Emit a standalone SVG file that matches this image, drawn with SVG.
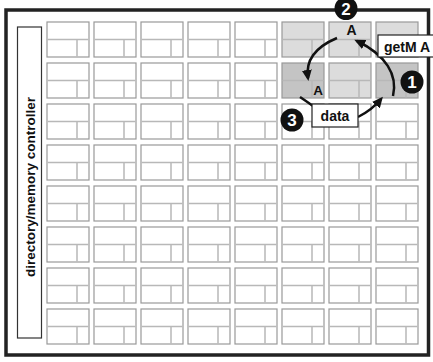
<svg xmlns="http://www.w3.org/2000/svg" xmlns:xlink="http://www.w3.org/1999/xlink" width="433" height="362" viewBox="0 0 433 362">
<style>
.frame{fill:#fff;stroke:#222;stroke-width:3.5}
.ctrl{fill:#fff;stroke:#333;stroke-width:1.2}
.tile{fill:#fff}
.lt{fill:#dcdcdc}
.dk{fill:#c4c4c4}
.ob{stroke:#999;stroke-width:1.2}
.dv{stroke:#b8b8b8;stroke-width:1.5;fill:none}
.t{font-family:"Liberation Sans",Arial,sans-serif;font-weight:bold;fill:#111}
.num{font-family:"Liberation Sans",Arial,sans-serif;font-weight:bold;fill:#fff;font-size:17px;text-anchor:middle}
.arr{fill:none;stroke:#111;stroke-width:2.5}
.lbl{fill:#fff;stroke:#222;stroke-width:1.2}
</style>
<defs>
<g id="tile">
<rect class="ob" x="0" y="0" width="42" height="35"/>
<path class="dv" d="M0.6,17.5H41.4M30,17.5V34.4"/>
</g>
<marker id="ah" viewBox="0 0 11 10" markerWidth="11" markerHeight="10" refX="8" refY="5" orient="auto" markerUnits="userSpaceOnUse">
<path d="M0,0L11,5L0,10z" fill="#111"/>
</marker>
</defs>
<rect class="frame" x="6" y="10" width="422.5" height="345"/>
<g id="controller">
<rect class="ctrl" x="17.5" y="27" width="24" height="311"/>
<text class="t" font-size="13.5" text-anchor="middle" transform="translate(34.5,187) rotate(-90)">directory/memory controller</text>
</g>
<g id="tiles">
<use id="t11" class="tile" xlink:href="#tile" x="47" y="22"/><use id="t12" class="tile" xlink:href="#tile" x="94" y="22"/><use id="t13" class="tile" xlink:href="#tile" x="141" y="22"/><use id="t14" class="tile" xlink:href="#tile" x="188" y="22"/><use id="t15" class="tile" xlink:href="#tile" x="235" y="22"/><use id="t16" class="lt" xlink:href="#tile" x="282" y="22"/><use id="t17" class="lt" xlink:href="#tile" x="329" y="22"/><use id="t18" class="lt" xlink:href="#tile" x="376" y="22"/>
<use id="t21" class="tile" xlink:href="#tile" x="47" y="63"/><use id="t22" class="tile" xlink:href="#tile" x="94" y="63"/><use id="t23" class="tile" xlink:href="#tile" x="141" y="63"/><use id="t24" class="tile" xlink:href="#tile" x="188" y="63"/><use id="t25" class="tile" xlink:href="#tile" x="235" y="63"/><use id="t26" class="dk" xlink:href="#tile" x="282" y="63"/><use id="t27" class="lt" xlink:href="#tile" x="329" y="63"/><use id="t28" class="dk" xlink:href="#tile" x="376" y="63"/>
<use id="t31" class="tile" xlink:href="#tile" x="47" y="104"/><use id="t32" class="tile" xlink:href="#tile" x="94" y="104"/><use id="t33" class="tile" xlink:href="#tile" x="141" y="104"/><use id="t34" class="tile" xlink:href="#tile" x="188" y="104"/><use id="t35" class="tile" xlink:href="#tile" x="235" y="104"/><use id="t36" class="tile" xlink:href="#tile" x="282" y="104"/><use id="t37" class="tile" xlink:href="#tile" x="329" y="104"/><use id="t38" class="tile" xlink:href="#tile" x="376" y="104"/>
<use id="t41" class="tile" xlink:href="#tile" x="47" y="145"/><use id="t42" class="tile" xlink:href="#tile" x="94" y="145"/><use id="t43" class="tile" xlink:href="#tile" x="141" y="145"/><use id="t44" class="tile" xlink:href="#tile" x="188" y="145"/><use id="t45" class="tile" xlink:href="#tile" x="235" y="145"/><use id="t46" class="tile" xlink:href="#tile" x="282" y="145"/><use id="t47" class="tile" xlink:href="#tile" x="329" y="145"/><use id="t48" class="tile" xlink:href="#tile" x="376" y="145"/>
<use id="t51" class="tile" xlink:href="#tile" x="47" y="186"/><use id="t52" class="tile" xlink:href="#tile" x="94" y="186"/><use id="t53" class="tile" xlink:href="#tile" x="141" y="186"/><use id="t54" class="tile" xlink:href="#tile" x="188" y="186"/><use id="t55" class="tile" xlink:href="#tile" x="235" y="186"/><use id="t56" class="tile" xlink:href="#tile" x="282" y="186"/><use id="t57" class="tile" xlink:href="#tile" x="329" y="186"/><use id="t58" class="tile" xlink:href="#tile" x="376" y="186"/>
<use id="t61" class="tile" xlink:href="#tile" x="47" y="227"/><use id="t62" class="tile" xlink:href="#tile" x="94" y="227"/><use id="t63" class="tile" xlink:href="#tile" x="141" y="227"/><use id="t64" class="tile" xlink:href="#tile" x="188" y="227"/><use id="t65" class="tile" xlink:href="#tile" x="235" y="227"/><use id="t66" class="tile" xlink:href="#tile" x="282" y="227"/><use id="t67" class="tile" xlink:href="#tile" x="329" y="227"/><use id="t68" class="tile" xlink:href="#tile" x="376" y="227"/>
<use id="t71" class="tile" xlink:href="#tile" x="47" y="268"/><use id="t72" class="tile" xlink:href="#tile" x="94" y="268"/><use id="t73" class="tile" xlink:href="#tile" x="141" y="268"/><use id="t74" class="tile" xlink:href="#tile" x="188" y="268"/><use id="t75" class="tile" xlink:href="#tile" x="235" y="268"/><use id="t76" class="tile" xlink:href="#tile" x="282" y="268"/><use id="t77" class="tile" xlink:href="#tile" x="329" y="268"/><use id="t78" class="tile" xlink:href="#tile" x="376" y="268"/>
<use id="t81" class="tile" xlink:href="#tile" x="47" y="309"/><use id="t82" class="tile" xlink:href="#tile" x="94" y="309"/><use id="t83" class="tile" xlink:href="#tile" x="141" y="309"/><use id="t84" class="tile" xlink:href="#tile" x="188" y="309"/><use id="t85" class="tile" xlink:href="#tile" x="235" y="309"/><use id="t86" class="tile" xlink:href="#tile" x="282" y="309"/><use id="t87" class="tile" xlink:href="#tile" x="329" y="309"/><use id="t88" class="tile" xlink:href="#tile" x="376" y="309"/>
</g>
<g id="tile-labels">
<text class="t" font-size="14" text-anchor="middle" x="351.5" y="34.5">A</text>
<text class="t" font-size="13.5" text-anchor="middle" x="318" y="95">A</text>
</g>
<g id="connectors">
<path class="arr" d="M393,96 C398,75 386,55 357,41" marker-end="url(#ah)"/>
<path class="arr" d="M337,38 C318,46 305,58 308,78" marker-end="url(#ah)"/>
<path class="arr" d="M300,97 Q306,101 313,106"/>
<path class="arr" d="M358,117 Q372,110 381,99" marker-end="url(#ah)"/>
</g>
<g id="getM">
<rect class="lbl" x="378" y="35" width="56" height="22"/>
<text class="t" font-size="14" x="384" y="51.5">getM A</text>
</g>
<g id="data">
<rect class="lbl" x="312" y="104" width="46" height="23"/>
<text class="t" font-size="14" text-anchor="middle" x="335" y="120.5">data</text>
</g>
<g id="step1"><circle cx="412" cy="82" r="11.5" fill="#111"/><text class="num" x="412" y="88">1</text></g>
<g id="step2"><circle cx="346" cy="8.5" r="11.5" fill="#111"/><text class="num" x="346" y="14.5">2</text></g>
<g id="step3"><circle cx="292" cy="120" r="11.5" fill="#111"/><text class="num" x="292" y="126">3</text></g>
</svg>
